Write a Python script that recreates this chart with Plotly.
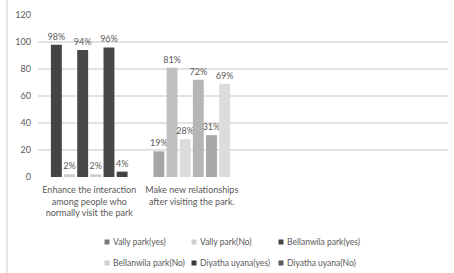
import plotly.graph_objects as go

categories = ["Enhance the interaction<br>among people who<br>normally visit the park",
              "Make new relationships<br>after visiting the park."]
series_names = ["Vally park(yes)", "Vally park(No)", "Bellanwila park(yes)",
                "Bellanwila park(No)", "Diyatha uyana(yes)", "Diyatha uyana(No)"]
vally_yes = [98, 19]
vally_no = [2, 81]
bell_yes = [94, 28]
bell_no = [2, 72]
diy_yes = [96, 31]
diy_no = [4, 69]
values = [vally_yes, vally_no, bell_yes, bell_no, diy_yes, diy_no]
y_ticks = [0, 20, 40, 60, 80, 100, 120]

bar_colors = [["#444444", "#a6a6a6"], ["#cccccc", "#bfbfbf"], ["#484848", "#dcdcdc"],
              ["#cccccc", "#b5b5b5"], ["#484848", "#a8a8a8"], ["#444444", "#dcdcdc"]]
legend_colors = ["#7a7a7a", "#cfcfcf", "#454545", "#cfcfcf", "#3a3a3a", "#5a5a5a"]

FONT = "Lato, Liberation Sans, Arial"
TXT = "#5a5a5a"

W, H = 454, 273
ML, MR, MT, MB = 38, 6, 15, 96
PW, PH = W - ML - MR, H - MT - MB


def px_x(px):
    return (px - ML) / PW


def px_y(py):
    return (H - MB - py) / PH


fig = go.Figure()
xs = list(range(len(categories)))
for i, (name, vals, cols) in enumerate(zip(series_names, values, bar_colors)):
    fig.add_trace(go.Bar(x=xs, y=vals, name=name,
                         marker=dict(color=cols, line=dict(width=0)),
                         text=[f"{v}%" for v in vals], textposition="outside",
                         constraintext="none",
                         textfont=dict(size=9, color=TXT, family=FONT),
                         cliponaxis=False, showlegend=False))

# legend drawn as small squares + text (two rows of three)
shapes = [dict(type="line", xref="paper", yref="paper", x0=px_x(7), x1=px_x(7),
               y0=px_y(H + 5), y1=px_y(-5), line=dict(color="#dddddd", width=1.5))]
annotations = []
for i, (name, lc) in enumerate(zip(series_names, legend_colors)):
    row, col = divmod(i, 3)
    sx = 107 + 87 * col
    sy = 242 + 21 * row
    shapes.append(dict(type="rect", xref="paper", yref="paper",
                       x0=px_x(sx - 2.5), x1=px_x(sx + 2.5), y0=px_y(sy + 2.5), y1=px_y(sy - 2.5),
                       fillcolor=lc, line=dict(width=0)))
    annotations.append(dict(xref="paper", yref="paper", x=px_x(sx + 4), y=px_y(sy),
                            xanchor="left", yanchor="middle", text=name, showarrow=False,
                            font=dict(size=8.5, color=TXT, family=FONT)))

fig.update_layout(
    width=W, height=H,
    margin=dict(l=ML, r=MR, t=MT, b=MB, autoexpand=False),
    barmode="group", bargap=0.23, bargroupgap=0.17,
    paper_bgcolor="white", plot_bgcolor="white",
    font=dict(family=FONT, size=9, color=TXT),
    showlegend=False,
    xaxis=dict(range=[-0.5, 3.5], tickvals=xs, ticktext=categories, showgrid=False,
               zeroline=False, showline=False, ticks="", ticklabelstandoff=6,
               tickfont=dict(size=9, color=TXT)),
    yaxis=dict(range=[0, 120], tickvals=y_ticks, showgrid=True, gridcolor="#e3e3e3",
               gridwidth=1.5, zeroline=False, showline=False, ticks="", ticklabelstandoff=6,
               tickfont=dict(size=9, color=TXT)),
    shapes=shapes,
    annotations=annotations,
)
fig.write_html("out.html", config={"displayModeBar": False},
               post_script="document.body.style.margin='0';document.body.style.overflow='hidden';")
